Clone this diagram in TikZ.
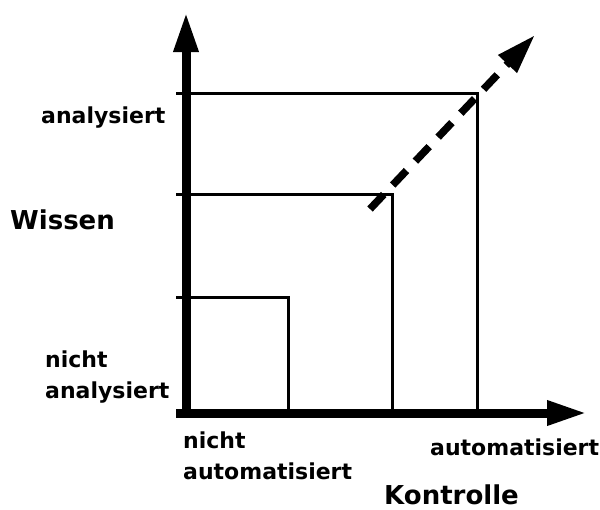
\documentclass[tikz,border=0pt]{standalone}
\usepackage{fontspec}
\setmainfont{DejaVu Sans}
\usetikzlibrary{positioning,arrows.meta}

\begin{document}
\begin{tikzpicture}[x=1pt,y=1pt,yscale=-1,xscale=1,
  axis/.style={line width=9pt,-{Triangle[length=40pt,width=23pt]}},
  box/.style={line width=3pt},
  trend/.style={line width=7.5pt,dash pattern=on 20pt off 13pt,-{Triangle[length=40pt,width=24pt]}},
  lab/.style={font=\fontsize{22}{31}\selectfont\bfseries,inner sep=0pt,align=left,anchor=base west},
  axtitle/.style={font=\fontsize{26}{30}\selectfont\bfseries,inner sep=0pt,anchor=base west}]
\useasboundingbox (0,0) rectangle (600,509);

% axes
\coordinate (ybot) at (186,417);
\coordinate (ytop) at (186,12);
\coordinate (xleft) at (176,413);
\coordinate (xright) at (587,413);
\draw [axis] (ybot) -- (ytop);
\draw [axis] (xleft) -- (xright);

% Shape: boxes
\coordinate (t1) at (176,297);
\coordinate (c1) at (288,297);
\coordinate (b1) at (288,413);
\draw [box] (t1) -- (c1) -- (b1);
\coordinate (t2) at (176,194);
\coordinate (c2) at (392,194);
\coordinate (b2) at (392,413);
\draw [box] (t2) -- (c2) -- (b2);
\coordinate (t3) at (176,93);
\coordinate (c3) at (477,93);
\coordinate (b3) at (477,413);
\draw [box] (t3) -- (c3) -- (b3);

% Dashed arrow
\coordinate (dstart) at (370,209);
\coordinate (dend) at (535,35);
\draw [trend] (dstart) -- (dend);

% Text Node
\node [lab] (yhigh) at (41,123) {analysiert};
% Text Node
\node [lab] (ylow) at (45,398) {nicht\\analysiert};
% Text Node
\node [axtitle] (ytitle) at (10,229) {Wissen};
% Text Node
\node [lab] (xlow) at (183,479) {nicht\\automatisiert};
% Text Node
\node [lab] (xhigh) at (430,455) {automatisiert};
% Text Node
\node [axtitle] (xtitle) at (384,504) {Kontrolle};

\end{tikzpicture}
\end{document}
